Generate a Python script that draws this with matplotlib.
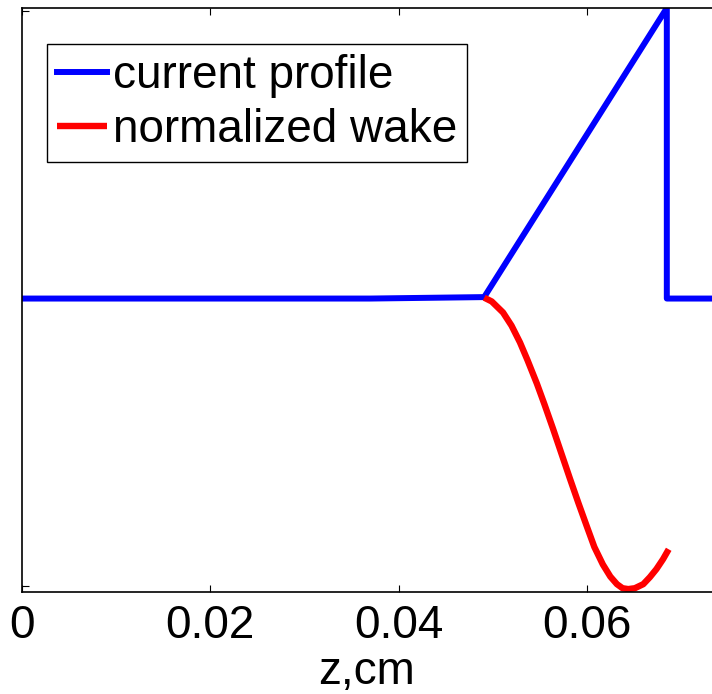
import numpy as np
import matplotlib
matplotlib.use("Agg")
import matplotlib.pyplot as plt

plt.rcParams["font.family"] = ["Liberation Sans", "DejaVu Sans"]
plt.rcParams["font.size"] = 33

# current profile (normalized), z in cm
z_cur = [0.0, 0.037, 0.0491, 0.0685, 0.0685, 0.0733]
i_cur = [0.0, 0.0, 0.005, 1.0, 0.0, 0.0]

# normalized wake
z_wake = [0.0491, 0.0499, 0.0511, 0.0520, 0.0529, 0.0537, 0.0547, 0.0555, 0.0564,
          0.0573, 0.0582, 0.0591, 0.0600, 0.0608, 0.0617, 0.0625, 0.0632, 0.0638,
          0.0644, 0.0651, 0.0660, 0.0667, 0.0674, 0.0681, 0.0687]
w_wake = [0.003, -0.010, -0.048, -0.093, -0.151, -0.212, -0.293, -0.364, -0.447,
          -0.533, -0.619, -0.703, -0.784, -0.855, -0.915, -0.957, -0.983, -0.997,
          -1.0, -0.997, -0.983, -0.959, -0.931, -0.897, -0.863]

xticks = [0.0, 0.02, 0.04, 0.06]
xticklabels = ["0", "0.02", "0.04", "0.06"]

fig = plt.figure(figsize=(7.12, 6.94), dpi=100)
ax = fig.add_axes([22/712, 1 - 592/694, (712 - 22)/712, (592 - 8)/694])

ax.plot(z_cur, i_cur, color="#0000ff", lw=4.3, solid_joinstyle="round",
        label="current profile")
ax.plot(z_wake, w_wake, color="#ff0000", lw=4.6, solid_capstyle="butt",
        solid_joinstyle="round", label="normalized wake")

ax.set_xlim(0, 0.0733)
ax.set_ylim(-1.01, 1.0)
ax.set_xticks(xticks)
ax.set_xticklabels(xticklabels)
ax.set_yticks([-0.99, 0.99])
ax.set_yticklabels([])
ax.tick_params(direction="in", length=5, width=0.8, top=True, right=False, pad=9)
ax.spines["right"].set_visible(False)
for s in ["left", "top", "bottom"]:
    ax.spines[s].set_linewidth(1.2)

ax.set_xlabel("z,cm", labelpad=1)

leg = ax.legend(loc="upper left", bbox_to_anchor=(0.036, 0.938), handlelength=1.1,
                handletextpad=0.12, labelspacing=0.22, borderpad=0.22,
                borderaxespad=0, fancybox=False, framealpha=1)
leg.get_frame().set_edgecolor("black")
leg.get_frame().set_linewidth(1.0)

fig.savefig("out.png", dpi=100)
